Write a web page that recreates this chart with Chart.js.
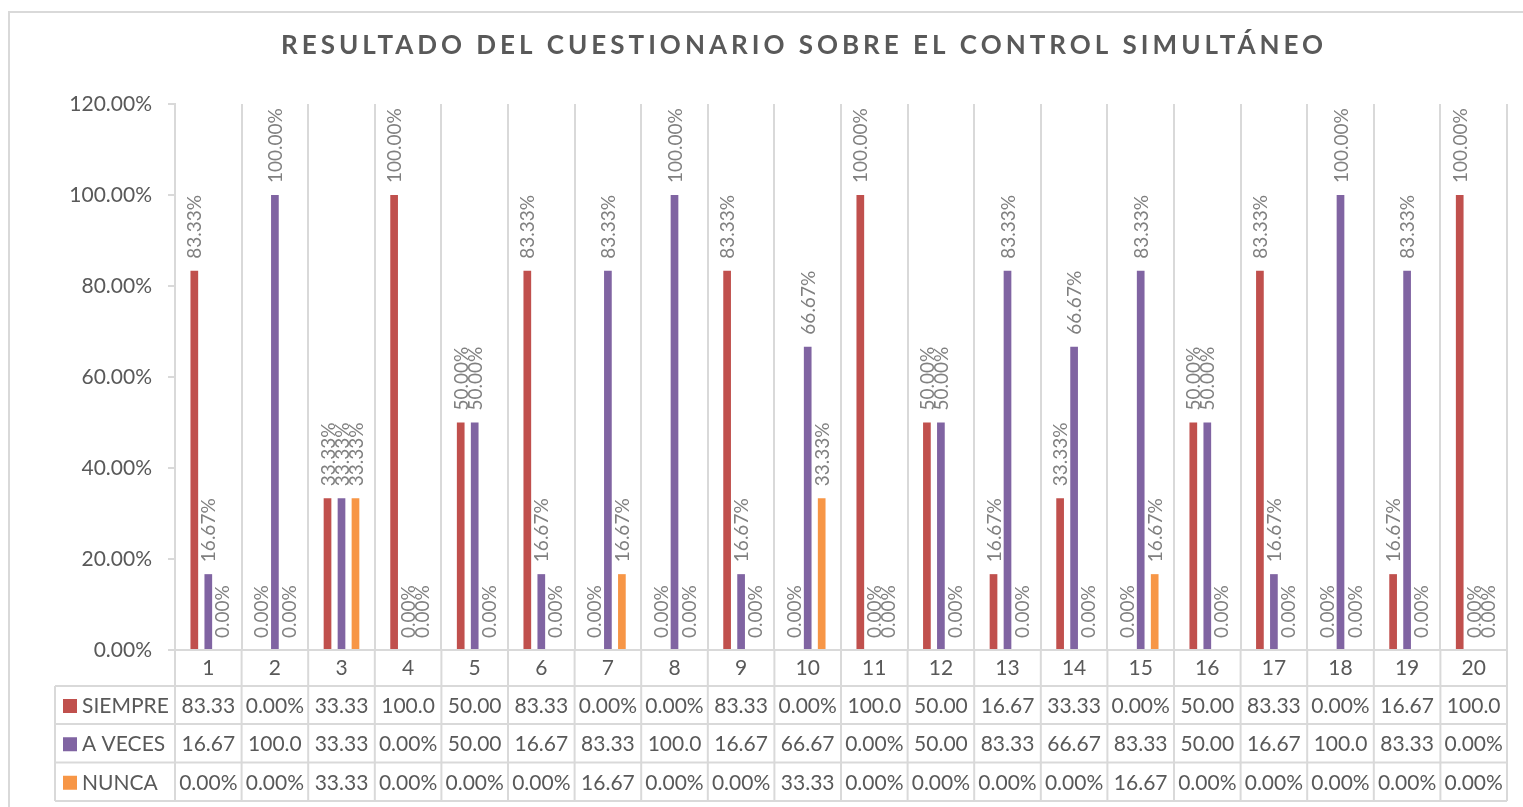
<!DOCTYPE html>
<html>
<head>
<meta charset="utf-8">
<script src="https://cdn.jsdelivr.net/npm/chart.js@4.4.1/dist/chart.umd.min.js"></script>
<style>
  html, body { margin: 0; padding: 0; background: #ffffff; }
  #wrap { position: relative; width: 1523px; height: 807px; }
  canvas { display: block; }
</style>
</head>
<body>
<div id="wrap"><canvas id="c" width="1523" height="807"></canvas></div>
<script>
// ---- data ----
const titleText = 'RESULTADO DEL CUESTIONARIO SOBRE EL CONTROL SIMULTÁNEO';
const categories = ['1','2','3','4','5','6','7','8','9','10','11','12','13','14','15','16','17','18','19','20'];
const seriesNames = ['SIEMPRE', 'A VECES', 'NUNCA'];
const siempre = [83.33, 0, 33.33, 100, 50, 83.33, 0, 0, 83.33, 0, 100, 50, 16.67, 33.33, 0, 50, 83.33, 0, 16.67, 100];
const aVeces  = [16.67, 100, 33.33, 0, 50, 16.67, 83.33, 100, 16.67, 66.67, 0, 50, 83.33, 66.67, 83.33, 50, 16.67, 100, 83.33, 0];
const nunca   = [0, 0, 33.33, 0, 0, 0, 16.67, 0, 0, 33.33, 0, 0, 0, 0, 16.67, 0, 0, 0, 0, 0];
const yTicks  = [0, 20, 40, 60, 80, 100, 120];

const colors = ['#C0504D', '#8064A2', '#F79646'];
const FONT = 'Lato, "Open Sans", "DejaVu Sans", sans-serif';
const GRID = '#d9d9d9';
const TXT = '#595959';

const fmt = v => v.toFixed(2) + '%';
const tableFmt = v => fmt(v).slice(0, 5);

// geometry of table rows below the axis label row (style only)
const ROW_H = [38, 38.5, 38.5];
const LEGEND_LEFT = 55;

const framePlugin = {
  id: 'frame',
  beforeDraw(chart) {
    const ctx = chart.ctx;
    ctx.save();
    ctx.fillStyle = '#ffffff';
    ctx.fillRect(0, 0, chart.width, chart.height);
    ctx.strokeStyle = GRID;
    ctx.lineWidth = 2;
    ctx.strokeRect(9, 12, chart.width + 40, chart.height + 40);
    // title
    ctx.fillStyle = TXT;
    ctx.font = 'bold 26px ' + FONT;
    ctx.letterSpacing = '4px';
    ctx.textAlign = 'center';
    ctx.textBaseline = 'middle';
    ctx.fillText(titleText, 804, 46);
    ctx.restore();
  }
};

const labelPlugin = {
  id: 'barLabels',
  afterDatasetsDraw(chart) {
    const ctx = chart.ctx;
    ctx.save();
    ctx.font = '19px ' + FONT;
    ctx.fillStyle = '#808080';
    ctx.textAlign = 'left';
    ctx.textBaseline = 'middle';
    chart.data.datasets.forEach((ds, di) => {
      const meta = chart.getDatasetMeta(di);
      meta.data.forEach((el, i) => {
        ctx.save();
        ctx.translate(el.x + 1, el.y - 12);
        ctx.rotate(-Math.PI / 2);
        ctx.fillText(fmt(ds.data[i]), 0, 0);
        ctx.restore();
      });
    });
    ctx.restore();
  }
};

const tablePlugin = {
  id: 'dataTable',
  afterDraw(chart) {
    const ctx = chart.ctx;
    const x = chart.scales.x;
    const n = categories.length;
    const w = (x.right - x.left) / n;
    const axisY = chart.chartArea.bottom;
    const top = x.bottom;
    const rows = [top];
    ROW_H.forEach(h => rows.push(rows[rows.length - 1] + h));
    const bottom = rows[rows.length - 1];
    ctx.save();
    ctx.strokeStyle = GRID;
    ctx.lineWidth = 2;
    rows.forEach(y => {
      ctx.beginPath();
      ctx.moveTo(LEGEND_LEFT, y);
      ctx.lineTo(x.right, y);
      ctx.stroke();
    });
    ctx.beginPath();
    ctx.moveTo(LEGEND_LEFT, top);
    ctx.lineTo(LEGEND_LEFT, bottom);
    ctx.stroke();
    for (let k = 0; k <= n; k++) {
      const px = x.left + k * w;
      ctx.beginPath();
      ctx.moveTo(px, axisY);
      ctx.lineTo(px, bottom);
      ctx.stroke();
    }
    const series = chart.data.datasets;
    ctx.textBaseline = 'middle';
    series.forEach((ds, si) => {
      const cy = (rows[si] + rows[si + 1]) / 2 + 1;
      ctx.fillStyle = ds.backgroundColor;
      ctx.fillRect(LEGEND_LEFT + 8, cy - 7, 14, 14);
      ctx.fillStyle = TXT;
      ctx.font = '21px ' + FONT;
      ctx.textAlign = 'left';
      ctx.fillText(ds.label, LEGEND_LEFT + 27, cy);
      ctx.textAlign = 'center';
      ds.data.forEach((v, i) => {
        ctx.fillText(tableFmt(v), x.getPixelForTick(i), cy);
      });
    });
    ctx.restore();
  }
};

new Chart(document.getElementById('c'), {
  type: 'bar',
  data: {
    labels: categories,
    datasets: [
      { label: seriesNames[0], data: siempre, backgroundColor: colors[0] },
      { label: seriesNames[1], data: aVeces, backgroundColor: colors[1] },
      { label: seriesNames[2], data: nunca, backgroundColor: colors[2] }
    ]
  },
  options: {
    responsive: false,
    animation: false,
    devicePixelRatio: 1,
    layout: { padding: { top: 104, left: 0, right: 16, bottom: 121 } },
    datasets: { bar: { categoryPercentage: 0.63, barPercentage: 0.55 } },
    plugins: {
      legend: { display: false },
      tooltip: { enabled: false },
      title: { display: false }
    },
    scales: {
      x: {
        grid: { display: true, offset: true, color: GRID, lineWidth: 2, drawTicks: false },
        border: { display: true, color: GRID, width: 2 },
        ticks: { color: TXT, font: { family: FONT, size: 21 }, padding: 6 },
        afterFit(scale) { scale.height = 36; }
      },
      y: {
        min: 0, max: 120,
        afterBuildTicks(scale) { scale.ticks = yTicks.map(v => ({ value: v })); },
        grid: { drawOnChartArea: false, drawTicks: true, tickLength: 7, color: GRID, lineWidth: 2 },
        border: { display: true, color: GRID, width: 2 },
        ticks: { color: TXT, font: { family: FONT, size: 21 }, padding: 16, callback: v => fmt(v) },
        afterFit(scale) { scale.width = 175; }
      }
    }
  },
  plugins: [framePlugin, labelPlugin, tablePlugin]
});
</script>
</body>
</html>
